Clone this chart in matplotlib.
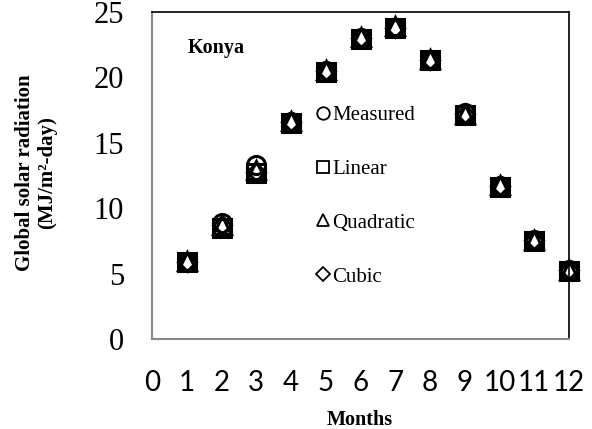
import matplotlib
matplotlib.use("Agg")
import matplotlib.pyplot as plt
from matplotlib.lines import Line2D

months = [1, 2, 3, 4, 5, 6, 7, 8, 9, 10, 11, 12]
measured = [5.9, 8.9, 13.3, 16.6, 20.5, 23.0, 23.8, 21.3, 17.3, 11.7, 7.6, 5.3]
linear = [5.9, 8.5, 12.7, 16.5, 20.4, 22.9, 23.8, 21.3, 17.1, 11.6, 7.5, 5.2]
quadratic = [6.0, 8.7, 12.9, 16.7, 20.6, 23.1, 23.9, 21.4, 17.2, 11.8, 7.6, 5.3]
cubic = [5.9, 8.7, 12.8, 16.6, 20.5, 23.0, 23.8, 21.3, 17.2, 11.7, 7.6, 5.3]
labels = ["Measured", "Linear", "Quadratic", "Cubic"]
xticks = list(range(0, 13))
yticks = [0, 5, 10, 15, 20, 25]

fig = plt.figure(figsize=(5.92, 4.29), dpi=100)
ax = fig.add_axes([152/592, 1-339/429, (569-152)/592, (339-12)/429])

series = [measured, linear, quadratic, cubic]
markers = ["o", "s", "^", "D"]
sizes = [13, 12.5, 13, 9.5]
for vals, m, s in zip(series, markers, sizes):
    ax.plot(months, vals, linestyle="none", marker=m, markersize=s,
            markerfacecolor="none", markeredgecolor="black", markeredgewidth=2.2,
            clip_on=False)

ax.set_xlim(0, 12)
ax.set_ylim(0, 25)
ax.set_xticks(xticks)
ax.set_yticks(yticks)
ax.set_xticklabels([str(t) for t in xticks], fontfamily="Lato", fontsize=20)
ax.set_yticklabels([str(t) for t in yticks], fontfamily="Liberation Serif", fontsize=22)
ax.tick_params(axis="both", length=0)
ax.tick_params(axis="x", pad=22)
ax.tick_params(axis="y", pad=20)
ax.spines["left"].set_color("#888888")
ax.spines["bottom"].set_color("#888888")
ax.spines["left"].set_linewidth(1.5)
ax.spines["bottom"].set_linewidth(1.5)
ax.spines["top"].set_linewidth(1.2)
ax.spines["right"].set_linewidth(1.2)

ax.text(0.086, 0.875, "Konya", transform=ax.transAxes, fontfamily="Liberation Serif",
        fontweight="bold", fontsize=14.5)

fig.text(36/592, 1-173/429, "Global solar radiation\n(MJ/m²-day)", rotation=90,
         ha="center", va="center", multialignment="center",
         fontfamily="Liberation Serif", fontweight="bold", fontsize=15, linespacing=1.15)
fig.text(360/592, 1-420/429, "Months", ha="center", va="center",
         fontfamily="Liberation Serif", fontweight="bold", fontsize=14.5)

handles = [Line2D([], [], linestyle="none", marker=m, markersize=ms, markerfacecolor="none",
                  markeredgecolor="black", markeredgewidth=1.3)
           for m, ms in zip(markers, [9, 9, 9, 7])]
leg = ax.legend(handles, labels, loc="center left", bbox_to_anchor=(0.35, 1-(196-12)/327),
                frameon=False, handlelength=0.6, handletextpad=0.15, labelspacing=1.65,
                prop={"family": "Liberation Serif", "size": 15})

fig.savefig("out.png", dpi=100)
